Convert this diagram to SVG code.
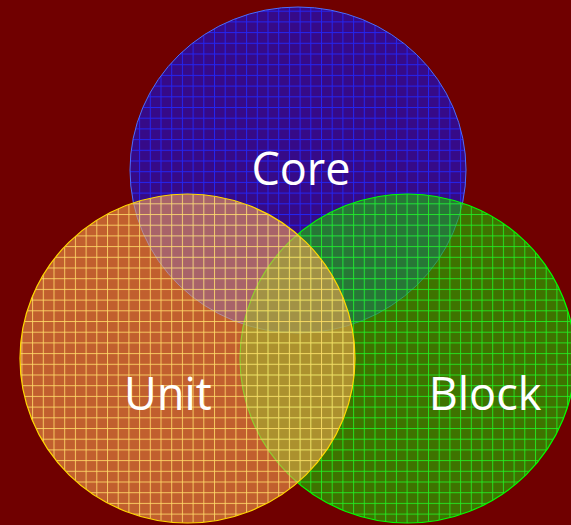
<svg xmlns="http://www.w3.org/2000/svg" width="571" height="525" viewBox="0 0 571 525">
  <defs>
    <!-- plaid fills: translucent base colour plus stronger grid lines -->
    <pattern id="gridCore" patternUnits="userSpaceOnUse" width="10.7" height="10.7">
      <rect width="10.7" height="10.7" fill="#360a88"/>
      <rect x="0" y="0" width="1" height="10.7" fill="#2424f0"/>
      <rect x="0" y="0" width="10.7" height="1" fill="#2424f0"/>
    </pattern>
    <pattern id="gridUnit" patternUnits="userSpaceOnUse" width="10.7" height="10.7">
      <rect width="10.7" height="10.7" fill="#ffa650" fill-opacity="0.57"/>
      <rect x="0" y="0" width="1" height="10.7" fill="#ffd868" fill-opacity="0.85"/>
      <rect x="0" y="0" width="10.7" height="1" fill="#ffd868" fill-opacity="0.85"/>
    </pattern>
    <pattern id="gridBlock" patternUnits="userSpaceOnUse" width="10.7" height="10.7">
      <rect width="10.7" height="10.7" fill="#1cc000" fill-opacity="0.6"/>
      <rect x="0" y="0" width="1" height="10.7" fill="#22f022" fill-opacity="0.85"/>
      <rect x="0" y="0" width="10.7" height="1" fill="#22f022" fill-opacity="0.85"/>
    </pattern>
    <style>
      .label { font-family: "Open Sans", "Noto Sans", "Liberation Sans", sans-serif; font-size: 45px; fill: #ffffff; text-anchor: middle; }
    </style>
  </defs>

  <rect width="571" height="525" fill="#700000"/>

  <g id="core">
    <ellipse cx="298" cy="170" rx="168" ry="163" fill="url(#gridCore)" stroke="#4a6cff" stroke-width="1"/>
  </g>
  <g id="block">
    <ellipse cx="407.5" cy="358.5" rx="167.5" ry="164.5" fill="url(#gridBlock)" stroke="#00ff00" stroke-width="1.2"/>
  </g>
  <g id="unit">
    <ellipse cx="187.5" cy="358.5" rx="167.5" ry="164.5" fill="url(#gridUnit)" stroke="#ffd800" stroke-width="1.2"/>
  </g>

  <g id="labels">
    <text class="label" x="301" y="185">Core</text>
    <text class="label" x="168" y="410">Unit</text>
    <text class="label" x="485" y="410">Block</text>
  </g>
</svg>
